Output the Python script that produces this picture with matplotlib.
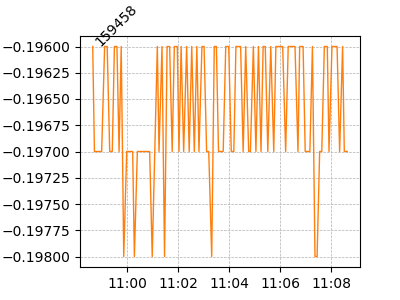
import matplotlib
matplotlib.use("Agg")
import matplotlib.pyplot as plt
import matplotlib.dates as mdates
from matplotlib.ticker import MultipleLocator
import pandas as pd

# price ticks
times = [
    "10:58:39", "10:58:43", "10:59:00", "10:59:07", "10:59:13", "10:59:19",
    "10:59:25", "10:59:30", "10:59:36", "10:59:41", "10:59:46", "10:59:52",
    "10:59:59", "11:00:13", "11:00:17", "11:00:24", "11:00:53", "11:00:59",
    "11:01:11", "11:01:15", "11:01:22", "11:01:28", "11:01:34", "11:01:40",
    "11:01:46", "11:01:51", "11:01:58", "11:02:02", "11:02:07", "11:02:13",
    "11:02:20", "11:02:26", "11:02:32", "11:02:38", "11:02:44", "11:02:49",
    "11:02:56", "11:03:01", "11:03:07", "11:03:12", "11:03:19", "11:03:25",
    "11:03:30", "11:03:35", "11:03:46", "11:03:52", "11:03:59", "11:04:05",
    "11:04:11", "11:04:16", "11:04:27", "11:04:33", "11:04:39", "11:04:46",
    "11:04:50", "11:04:57", "11:05:03", "11:05:09", "11:05:15", "11:05:20",
    "11:05:25", "11:05:31", "11:05:38", "11:05:45", "11:05:50", "11:06:06",
    "11:06:13", "11:06:19", "11:06:35", "11:06:42", "11:06:46", "11:06:54",
    "11:06:59", "11:07:10", "11:07:16", "11:07:22", "11:07:27", "11:07:33",
    "11:07:38", "11:07:44", "11:07:51", "11:07:55", "11:08:02", "11:08:14",
    "11:08:20", "11:08:27", "11:08:31", "11:08:38",
]
prices = [
    -0.196, -0.197, -0.197, -0.196, -0.196, -0.197,
    -0.197, -0.196, -0.196, -0.197, -0.196, -0.198,
    -0.197, -0.197, -0.198, -0.197, -0.197, -0.198,
    -0.196, -0.197, -0.196, -0.198, -0.196, -0.196,
    -0.197, -0.196, -0.196, -0.197, -0.196, -0.197,
    -0.196, -0.197, -0.196, -0.197, -0.196, -0.197,
    -0.196, -0.196, -0.197, -0.197, -0.198, -0.196,
    -0.196, -0.197, -0.197, -0.196, -0.196, -0.197,
    -0.197, -0.196, -0.196, -0.197, -0.196, -0.197,
    -0.197, -0.196, -0.197, -0.196, -0.197, -0.196,
    -0.196, -0.197, -0.196, -0.197, -0.196, -0.196,
    -0.197, -0.196, -0.196, -0.197, -0.196, -0.196,
    -0.197, -0.197, -0.196, -0.198, -0.198, -0.197,
    -0.197, -0.196, -0.196, -0.197, -0.196, -0.196,
    -0.197, -0.196, -0.197, -0.197,
]
name = "159458"

t = pd.to_datetime(["2024-01-02 " + s for s in times])

fig, ax = plt.subplots(figsize=(4, 3), dpi=100)
fig.subplots_adjust(left=0.2, right=0.9, top=0.88, bottom=0.11)

ax.plot(t, prices, color="tab:orange", linewidth=1)
ax.text(t[0], prices[0], name, rotation=45)

ax.xaxis.set_major_locator(mdates.MinuteLocator(byminute=range(0, 60, 2)))
ax.xaxis.set_major_formatter(mdates.DateFormatter("%H:%M"))
ax.yaxis.set_major_locator(MultipleLocator(0.00025))
ax.ticklabel_format(axis="y", useOffset=False)
ax.grid(True, linestyle="--", linewidth=0.5, color="#b0b0b0")

fig.savefig("out.png")
